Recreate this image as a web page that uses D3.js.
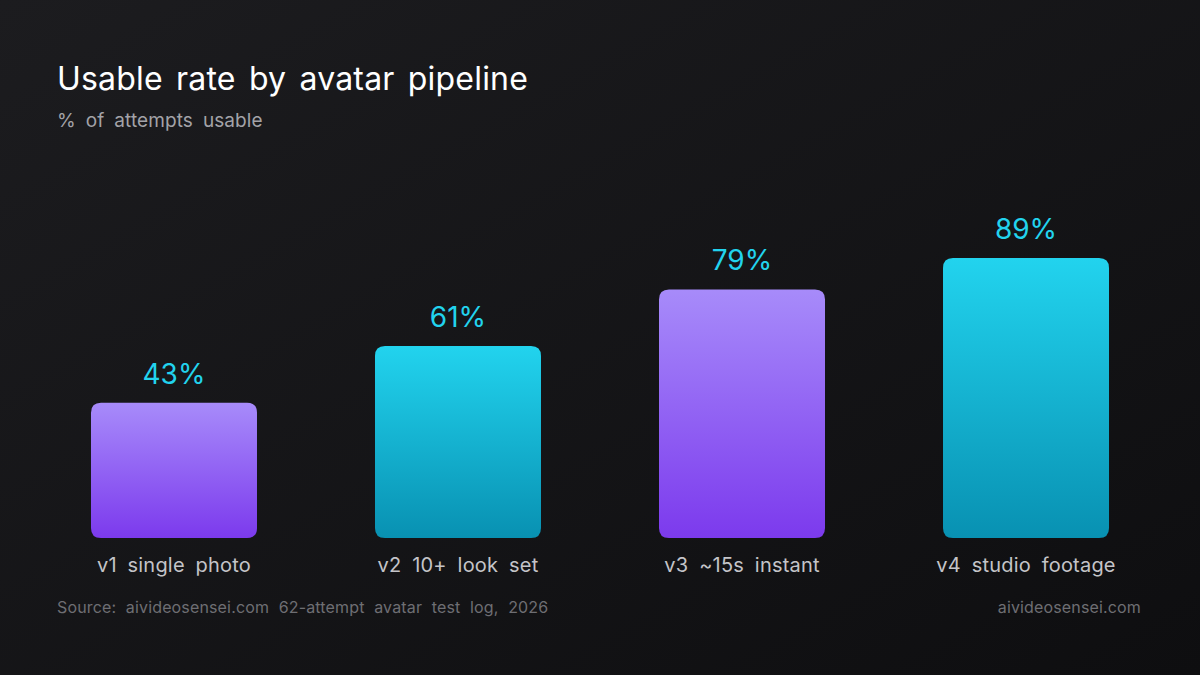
<!DOCTYPE html>
<html><head><meta charset="utf-8">
<script src="https://cdn.jsdelivr.net/npm/d3@7"></script>
<style>html,body{margin:0;padding:0;background:#111}</style>
</head><body>
<svg id="c" width="1200" height="675"></svg>
<script>
const categories = ["v1 single photo","v2 10+ look set","v3 ~15s instant","v4 studio footage"];
const values = [43,61,79,89];
const valueLabels = ["43%","61%","79%","89%"];
const palettes = ["purple","cyan","purple","cyan"];

const svg = d3.select("#c");
const defs = svg.append("defs");
const bg = defs.append("linearGradient").attr("id","bg").attr("x1","0").attr("y1","0").attr("x2","1").attr("y2","1");
bg.append("stop").attr("offset","0").attr("stop-color","#1c1c1f");
bg.append("stop").attr("offset","1").attr("stop-color","#0e0e10");
const gp = defs.append("linearGradient").attr("id","purple").attr("x1","0").attr("y1","0").attr("x2","0").attr("y2","1");
gp.append("stop").attr("offset","0").attr("stop-color","#a78bfa");
gp.append("stop").attr("offset","1").attr("stop-color","#7c3aed");
const gc = defs.append("linearGradient").attr("id","cyan").attr("x1","0").attr("y1","0").attr("x2","0").attr("y2","1");
gc.append("stop").attr("offset","0").attr("stop-color","#22d3ee");
gc.append("stop").attr("offset","1").attr("stop-color","#0891b2");

svg.append("rect").attr("width",1200).attr("height",675).attr("fill","url(#bg)");
const font = "Inter, 'Noto Sans', sans-serif";

svg.append("text").attr("x",57).attr("y",90).attr("fill","#ffffff").attr("font-family",font).attr("font-size",32).attr("word-spacing",4).attr("letter-spacing",0.2).text("Usable rate by avatar pipeline");
svg.append("text").attr("x",57).attr("y",127).attr("fill","#a3a3a8").attr("font-family",font).attr("font-size",19).attr("word-spacing",4.5).attr("letter-spacing",0.1).text("% of attempts usable");

const x = d3.scaleBand().domain(categories).range([32,1168]).paddingInner(0.4155).paddingOuter(0.2077);
const y = d3.scaleLinear().domain([0,100]).range([538,223.4]);

const g = svg.append("g");
categories.forEach((c,i)=>{
  const x0 = x(c), w = x.bandwidth(), yt = y(values[i]), h = y(0)-yt, r = 10;
  g.append("path")
    .attr("d",`M${x0},${yt+r} Q${x0},${yt} ${x0+r},${yt} L${x0+w-r},${yt} Q${x0+w},${yt} ${x0+w},${yt+r} L${x0+w},${yt+h-r} Q${x0+w},${yt+h} ${x0+w-r},${yt+h} L${x0+r},${yt+h} Q${x0},${yt+h} ${x0},${yt+h-r} Z`)
    .attr("fill",`url(#${palettes[i]})`);
  g.append("text").attr("x",x0+w/2).attr("y",yt-19).attr("text-anchor","middle")
    .attr("fill","#22d3ee").attr("font-family",font).attr("font-size",28).text(valueLabels[i]);
  g.append("text").attr("x",x0+w/2).attr("y",572).attr("text-anchor","middle")
    .attr("fill","#c4c4c8").attr("font-family",font).attr("font-size",20).attr("word-spacing",5).attr("letter-spacing",0.2).text(c);
});

svg.append("text").attr("x",57).attr("y",613).attr("fill","#6e6e73").attr("font-family",font).attr("font-size",16).attr("word-spacing",5).attr("letter-spacing",0.15).text("Source: aivideosensei.com 62-attempt avatar test log, 2026");
svg.append("text").attr("x",1141).attr("y",613).attr("text-anchor","end").attr("fill","#6e6e73").attr("font-family",font).attr("font-size",16).attr("letter-spacing",0.15).text("aivideosensei.com");
</script>
</body></html>
